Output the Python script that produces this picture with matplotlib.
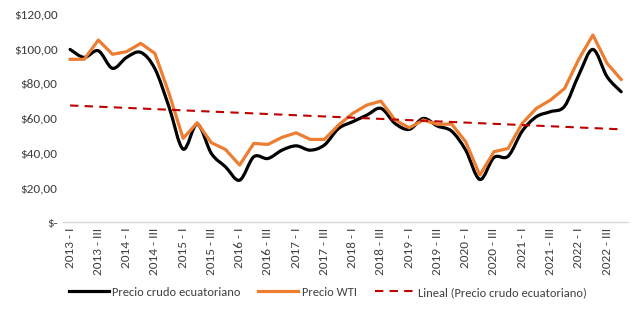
import numpy as np
import matplotlib
matplotlib.use("Agg")
import matplotlib.pyplot as plt
from matplotlib.path import Path
from matplotlib.patches import PathPatch
from matplotlib.lines import Line2D

plt.rcParams['font.family'] = ['Carlito', 'Liberation Sans Narrow', 'Liberation Sans', 'DejaVu Sans']

# Quarterly prices, 2013-I .. 2022-IV
years = list(range(2013, 2023))
quarters = ["I", "II", "III", "IV"]
periods = [f"{y} - {q}" for y in years for q in quarters]

ecu = [99.6, 95.0, 98.8, 88.7, 95.0, 97.9, 88.5, 66.5, 42.1, 56.5,
       39.6, 31.9, 24.2, 37.7, 36.7, 41.5, 44.0, 41.5, 44.5, 54.0,
       57.9, 61.7, 65.6, 56.9, 53.5, 59.8, 55.4, 52.5, 41.5, 24.6,
       37.3, 38.0, 52.5, 60.8, 63.7, 66.9, 84.8, 99.6, 83.9, 75.2]
wti = [93.9, 93.9, 105.0, 96.8, 98.3, 103.1, 97.3, 74.3, 48.3, 57.3,
       45.8, 41.9, 32.9, 45.4, 44.8, 48.9, 51.5, 47.7, 47.7, 56.0,
       62.7, 67.5, 69.8, 58.9, 54.4, 58.9, 56.4, 56.6, 46.3, 27.1,
       40.6, 42.5, 57.0, 65.6, 70.4, 77.1, 93.9, 107.9, 91.6, 82.3]

BLACK = "#000000"
ORANGE = "#ED7D31"
RED = "#C00000"


def smooth_path(x, y):
    """Excel-style smoothed line as cubic Bezier segments"""
    pts = np.column_stack([x, y]).astype(float)
    n = len(pts)
    verts = [pts[0]]
    codes = [Path.MOVETO]
    for i in range(n - 1):
        p0 = pts[i - 1] if i > 0 else pts[i]
        p1, p2 = pts[i], pts[i + 1]
        p3 = pts[i + 2] if i + 2 < n else pts[i + 1]
        c1 = p1 + (p2 - p0) / 6.0
        c2 = p2 - (p3 - p1) / 6.0
        verts += [c1, c2, p2]
        codes += [Path.CURVE4] * 3
    return Path(verts, codes)


fig = plt.figure(figsize=(6.43, 3.12), dpi=100)
ax = fig.add_axes([0.098, 0.288, 0.879, 0.667])

x = np.arange(len(periods))

ax.add_patch(PathPatch(smooth_path(x, ecu), facecolor="none", edgecolor=BLACK,
                       linewidth=2.3, capstyle="round", joinstyle="round", zorder=3))
ax.plot(x, wti, color=ORANGE, linewidth=2.3, solid_joinstyle="round", zorder=4)

# linear trend of Ecuadorian crude
coef = np.polyfit(x, ecu, 1)
ax.plot(x, np.polyval(coef, x), color=RED, linewidth=1.5, linestyle=(0, (4, 3)), zorder=5)

ax.set_xlim(-0.5, len(periods) - 0.5)
ax.set_ylim(0, 120)
ax.set_yticks(range(0, 121, 20))
ax.set_yticklabels(["$-"] + [f"${v},00" for v in range(20, 121, 20)], fontsize=9.5, color="#404040")
ax.set_xticks(x[::2])
ax.set_xticklabels(periods[::2], rotation=90, fontsize=9.5, color="#404040")
ax.tick_params(axis="both", length=0, pad=4)

for s in ["top", "right", "left"]:
    ax.spines[s].set_visible(False)
ax.spines["bottom"].set_color("#D9D9D9")
ax.spines["bottom"].set_linewidth(1.0)

handles = [
    Line2D([], [], color=BLACK, linewidth=2.3),
    Line2D([], [], color=ORANGE, linewidth=2.3),
    Line2D([], [], color=RED, linewidth=1.5, linestyle=(0, (4, 3))),
]
labels = ["Precio crudo ecuatoriano", "Precio WTI", "Lineal (Precio crudo ecuatoriano)"]
fig.legend(handles, labels, loc="center", bbox_to_anchor=(0.51, 0.063), ncol=3,
           frameon=False, fontsize=9, handlelength=3.2, handletextpad=0.3,
           columnspacing=1.4, labelcolor="#404040")

fig.savefig("out.png", dpi=100, facecolor="white")
